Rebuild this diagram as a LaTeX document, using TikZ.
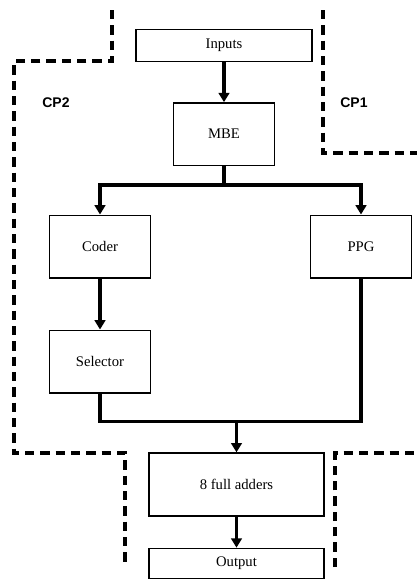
\documentclass[tikz,border=0pt]{standalone}
\usepackage{fontspec}
\setmainfont{Liberation Serif}
\setsansfont{Liberation Sans}
\usetikzlibrary{arrows.meta,positioning,calc}

\begin{document}
\begin{tikzpicture}[
    x=0.75pt, y=-0.75pt,
    block/.style={rectangle, draw, line width=1pt, fill=white, inner sep=2pt,
                  align=center, font=\fontsize{11}{13}\selectfont},
    iobox/.style={block, minimum width=132pt, minimum height=24pt},
    unit/.style={block, minimum width=75.75pt, minimum height=47pt},
    adder/.style={block, minimum width=131.25pt, minimum height=47.25pt},
    cplabel/.style={font=\sffamily\bfseries\fontsize{10.5}{12}\selectfont},
    line/.style={line width=2.6pt},
    arrow/.style={-{Triangle[length=7pt,width=8pt]}, line width=2.6pt},
    border/.style={dashed, line width=2.3pt, dash pattern=on 7pt off 4.5pt}
  ]
  \useasboundingbox (0,0) rectangle (417,579);

  % Blocks
  \node[iobox] (inputs) at (224,45.5) {Inputs};
  \node[unit, below=30pt of inputs] (mbe) {MBE};
  \node[unit] (coder) at (100,246.5) {Coder};
  \node[unit] (ppg) at (361,246.5) {PPG};
  \node[unit, below=38.25pt of coder] (selector) {Selector};
  \node[adder] (adders) at (236.5,484.5) {8 full adders};
  \node[iobox, minimum width=131.25pt, minimum height=22.5pt, below=23.25pt of adders] (output) {Output};

  % Partition labels
  \node[cplabel] (cp2) at (56,103) {CP2};
  \node[cplabel] (cp1) at (354,103) {CP1};

  % Junctions
  \coordinate (split) at ($(mbe.south)+(0,19)$);
  \coordinate (merge) at ($(adders.north)+(0,-31)$);

  % Connections
  \draw[arrow] (inputs) -- (mbe);
  \draw[line] (mbe.south) -- (split);
  \draw[arrow] (split) -| (coder.north);
  \draw[arrow] (split) -| (ppg.north);
  \draw[arrow] (coder) -- (selector);
  \draw[line] (selector.south) |- (merge) -| (ppg.south);
  \draw[arrow] (merge) -- (adders.north);
  \draw[arrow] (adders) -- (output);

  % Partition borders
  \draw[border] (112,10) -- (112,61) -- (14,61) -- (14,453) -- (125,453) -- (125,567);
  \draw[border] (323,10) -- (323,153) -- (417,153);
  \draw[border] (335,567) -- (335,453) -- (417,453);
\end{tikzpicture}
\end{document}
